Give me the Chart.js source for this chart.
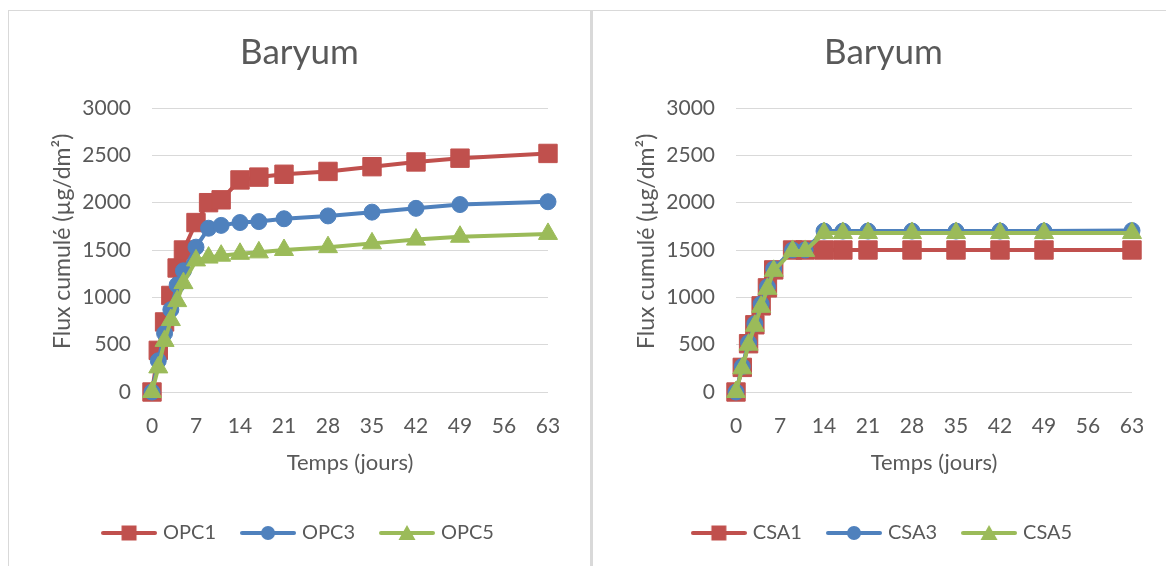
<!DOCTYPE html>
<html>
<head>
<meta charset="utf-8">
<script src="https://cdn.jsdelivr.net/npm/chart.js@4/dist/chart.umd.min.js"></script>
<style>
  html, body { margin: 0; padding: 0; background: #fff; width: 1166px; height: 566px; overflow: hidden; }
  .panel { position: absolute; top: 10px; border: 1px solid #d9d9d9; width: 581px; height: 570px; }
  #leftPanel { left: 8px; }
  #rightPanel { left: 591px; border-left-width: 2px; }
  canvas { display: block; }
</style>
</head>
<body>
<div class="panel" id="leftPanel"><canvas id="opcChart" width="581" height="560"></canvas></div>
<div class="panel" id="rightPanel"><canvas id="csaChart" width="581" height="560"></canvas></div>
<script>
// days of each leaching step
const opcDays = [0, 1, 2, 3, 4, 5, 7, 9, 11, 14, 17, 21, 28, 35, 42, 49, 63];
const csaDays = [0, 1, 2, 3, 4, 5, 6, 9, 11, 14, 17, 21, 28, 35, 42, 49, 63];

// cumulative flux (µg/dm²)
const opc1 = [0, 440, 740, 1020, 1310, 1500, 1790, 2000, 2030, 2240, 2270, 2300, 2330, 2380, 2430, 2470, 2520];
const opc3 = [0, 330, 620, 870, 1130, 1280, 1530, 1730, 1760, 1790, 1800, 1830, 1860, 1900, 1940, 1980, 2010];
const opc5 = [0, 260, 540, 760, 960, 1150, 1390, 1420, 1440, 1460, 1475, 1500, 1530, 1570, 1610, 1640, 1670];

const csa1 = [0, 260, 510, 710, 910, 1100, 1290, 1500, 1500, 1500, 1500, 1500, 1500, 1500, 1500, 1500, 1500];
const csa3 = [0, 270, 520, 720, 930, 1110, 1300, 1500, 1500, 1700, 1700, 1700, 1700, 1700, 1700, 1700, 1705];
const csa5 = [0, 250, 500, 700, 900, 1090, 1280, 1490, 1490, 1680, 1680, 1680, 1680, 1680, 1680, 1680, 1680];

const dayTicks = [0, 7, 14, 21, 28, 35, 42, 49, 56, 63];
const fluxTicks = [0, 500, 1000, 1500, 2000, 2500, 3000];

const RED = "#C0504D";
const BLUE = "#4F81BD";
const GREEN = "#9BBB59";
const TEXT = "#595959";

Chart.defaults.font.family = "Lato";
Chart.defaults.color = TEXT;

// little line + marker picture for the legend, like Excel does
function legendIcon(color, style) {
  const c = document.createElement("canvas");
  c.width = 56;
  c.height = 22;
  const ctx = c.getContext("2d");
  ctx.strokeStyle = color;
  ctx.fillStyle = color;
  ctx.lineWidth = 4;
  ctx.lineCap = "round";
  ctx.beginPath();
  ctx.moveTo(2, 11);
  ctx.lineTo(54, 11);
  ctx.stroke();
  ctx.beginPath();
  if (style === "rect") {
    ctx.rect(20.5, 3.5, 15, 15);
  } else if (style === "circle") {
    ctx.arc(28, 11, 7, 0, Math.PI * 2);
  } else {
    ctx.moveTo(28, 3);
    ctx.lineTo(36.5, 18);
    ctx.lineTo(19.5, 18);
    ctx.closePath();
  }
  ctx.fill();
  return c;
}

function series(label, days, values, color, style, radius, order) {
  return {
    label: label,
    data: days.map((d, i) => ({ x: d, y: values[i] })),
    borderColor: color,
    backgroundColor: color,
    borderWidth: 4,
    borderJoinStyle: "round",
    borderCapStyle: "round",
    pointStyle: style,
    pointRadius: radius,
    pointBorderWidth: 1,
    pointBackgroundColor: color,
    pointBorderColor: color,
    tension: 0,
    clip: false,
    order: order,
  };
}

function makeChart(id, datasets) {
  return new Chart(document.getElementById(id), {
    type: "line",
    data: { datasets: datasets },
    options: {
      responsive: false,
      animation: false,
      layout: { padding: { left: 0, right: 0, top: 0, bottom: 18 } },
      plugins: {
        title: {
          display: true,
          text: "Baryum",
          color: TEXT,
          font: { size: 35, weight: "normal" },
          padding: { top: 21, bottom: 34 },
        },
        legend: {
          position: "bottom",
          labels: {
            usePointStyle: true,
            pointStyleWidth: 48,
            padding: 28,
            color: TEXT,
            font: { size: 20 },
            sort: (a, b) => a.datasetIndex - b.datasetIndex,
            generateLabels: (chart) => {
              const items = Chart.defaults.plugins.legend.labels.generateLabels(chart);
              items.forEach((it) => {
                const ds = chart.data.datasets[it.datasetIndex];
                it.pointStyle = legendIcon(ds.borderColor, ds.pointStyle);
              });
              return items;
            },
          },
        },
        tooltip: { enabled: false },
      },
      scales: {
        x: {
          type: "linear",
          min: 0,
          max: 63,
          afterBuildTicks: (s) => { s.ticks = dayTicks.map((v) => ({ value: v })); },
          afterFit: (s) => { s.height = 103; },
          ticks: { padding: 22, color: TEXT, font: { size: 21 } },
          grid: { display: false, drawTicks: false },
          border: { display: false },
          title: {
            display: true,
            text: "Temps (jours)",
            color: TEXT,
            font: { size: 22 },
            padding: { top: 0, bottom: 19 },
          },
        },
        y: {
          min: 0,
          max: 3000,
          afterBuildTicks: (s) => { s.ticks = fluxTicks.map((v) => ({ value: v })); },
          afterFit: (s) => { s.width = 143; },
          ticks: { padding: 21, color: TEXT, font: { size: 21 }, callback: (v) => String(v) },
          grid: { color: "#d9d9d9", lineWidth: 1, drawTicks: false },
          border: { display: false },
          title: {
            display: true,
            // em space in front pulls the centred text up a little, as in the original
            text: "\u2003Flux cumulé (µg/dm²)",
            color: TEXT,
            font: { size: 23 },
            padding: { top: 40, bottom: 0 },
          },
        },
        // empty axis on the right only to leave the white margin,
        // so title and legend stay centred on the whole panel
        yRight: {
          type: "linear",
          position: "right",
          display: true,
          afterFit: (s) => { s.width = 42; },
          ticks: { display: false },
          grid: { display: false, drawTicks: false },
          border: { display: false },
        },
      },
    },
  });
}

makeChart("opcChart", [
  series("OPC1", opcDays, opc1, RED, "rect", 13, 3),
  series("OPC3", opcDays, opc3, BLUE, "circle", 8, 2),
  series("OPC5", opcDays, opc5, GREEN, "triangle", 11, 1),
]);

makeChart("csaChart", [
  series("CSA1", csaDays, csa1, RED, "rect", 13, 3),
  series("CSA3", csaDays, csa3, BLUE, "circle", 8, 2),
  series("CSA5", csaDays, csa5, GREEN, "triangle", 11, 1),
]);
</script>
</body>
</html>
